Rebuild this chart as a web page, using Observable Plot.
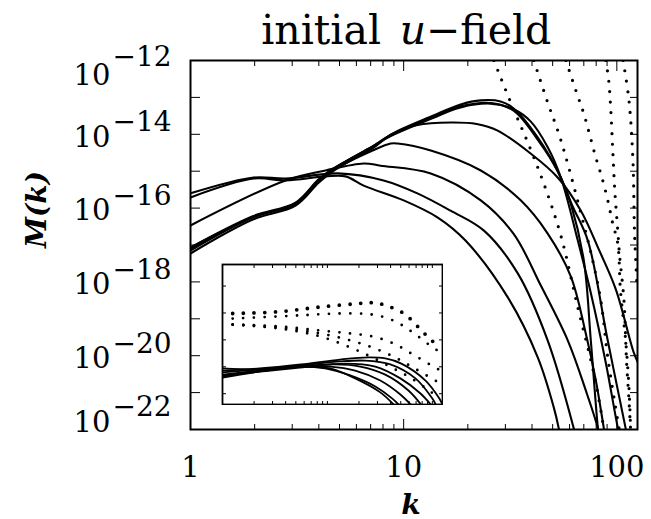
<!DOCTYPE html>
<html><head><meta charset="utf-8">
<script src="https://cdn.jsdelivr.net/npm/d3@7"></script>
<script src="https://cdn.jsdelivr.net/npm/@observablehq/plot@0.6"></script>
<style>
body{margin:0;background:#fff;}
#wrap{position:relative;width:651px;height:519px;overflow:hidden;}
#wrap svg{position:absolute;}
</style>
</head><body><div id="wrap"></div>
<script>
// ---------- main panel data: [k, log10 M(k)] ----------
const solidP1a = [[1,-17.23],[1.96,-16.31],[3.11,-15.93],[3.99,-15.31],[4.64,-15.01],[5.64,-14.71],[7.15,-14.38],[8.69,-14.01],[13.8,-13.49],[18.5,-13.19],[23.0,-13.08],[28.5,-13.11],[32.8,-13.30],[42.6,-14.09],[54.6,-15.17],[60.8,-15.88],[70.0,-17.42],[75.5,-19.59],[81.5,-21.97],[84,-22.6]];
const solidP1b = [[1,-17.15],[1.96,-16.25],[3.11,-15.88],[3.99,-15.25],[4.64,-14.96],[5.64,-14.66],[7.15,-14.33],[8.69,-14.05],[13.8,-13.55],[18.5,-13.27],[25.6,-13.17],[32.8,-13.32],[39.4,-13.65],[47.4,-14.35],[54.6,-15.17],[65.6,-16.88],[75.5,-18.3],[88.8,-20.2],[101,-21.95],[106,-22.5]];
const solidP2 = [[1,-17.07],[1.96,-16.22],[3.11,-15.85],[3.99,-15.22],[4.64,-14.94],[5.64,-14.66],[7.15,-14.33],[8.69,-14.02],[11.6,-13.75],[16.6,-13.68],[22,-13.72],[27.6,-13.90],[39.4,-14.52],[52.8,-15.17],[67.8,-16.07],[82,-17.1],[98.9,-18.2],[120,-19.91],[126,-20.2]];
const solidP2b = [[1,-17.10],[1.96,-16.24],[3.11,-15.87],[3.99,-15.24],[4.64,-14.95],[5.64,-14.67],[7.15,-14.34],[8.69,-14.03],[13.8,-13.52],[18.5,-13.24],[25.6,-13.15],[32.8,-13.36],[42.6,-14.15],[52.8,-15.0],[62,-15.95],[73.1,-16.88],[90,-19.5],[110,-21.97],[115,-22.5]];
const solidP3 = [[1,-17.07],[1.96,-16.25],[3.11,-15.88],[3.99,-15.25],[4.64,-14.98],[7.15,-14.44],[8.69,-14.25],[9.37,-14.25],[13.4,-14.44],[23.0,-14.98],[35.4,-15.79],[47.4,-16.69],[60.8,-17.85],[71.5,-19.4],[79.7,-20.67],[86.9,-21.97],[90,-22.5]];
const solidP4 = [[1,-16.47],[2.79,-15.25],[4.30,-14.98],[6.49,-14.79],[7.80,-14.85],[13.4,-15.06],[23.0,-15.79],[32.8,-16.70],[44.0,-18.1],[58.9,-19.59],[71.5,-20.94],[81.5,-21.97],[85,-22.5]];
const solidP5 = [[1,-15.60],[1.98,-15.17],[2.79,-15.20],[4.90,-15.06],[8.05,-15.25],[11.6,-15.60],[16.6,-16.07],[23.8,-16.61],[34.3,-17.77],[47.4,-19.59],[62.8,-21.97],[66,-22.5]];
const solidP6 = [[1,-15.71],[1.98,-15.20],[2.79,-15.25],[4.30,-15.14],[5.34,-15.14],[6.49,-15.39],[10.0,-15.79],[14.4,-16.25],[19.5,-16.88],[30.8,-18.42],[42.6,-20.05],[50.6,-21.40],[53.4,-21.97],[55,-22.4]];
const dottedD1 = [[26.5,-12.0],[31.8,-13.14],[38.2,-14.22],[45.4,-15.33],[54.6,-16.74],[65.6,-18.69],[78.0,-20.48],[86.9,-21.97],[89,-22.4]];
const dottedD2 = [[40.8,-12.0],[47.4,-13.14],[53.4,-13.98],[59.5,-14.90],[67.8,-16.14],[75.5,-17.20],[84.1,-18.50],[90.7,-20.05],[101,-21.76],[104,-22.2]];
const dottedD3 = [[57.7,-12.0],[64.9,-12.89],[70.0,-13.44],[74.7,-14.03],[79.7,-14.63],[85.1,-15.17],[90.7,-15.79],[95.7,-16.42],[101,-16.96],[104,-18.23],[110,-19.59],[114,-20.86],[116,-21.97]];
const dottedD4 = [[88.8,-12.0],[91.6,-12.54],[93.7,-13.36],[95.7,-14.44],[97.8,-15.52],[101,-16.61],[103,-17.28],[108,-18.50],[111,-20.13],[114,-21.21],[116,-22.0]];
const dottedD5 = [[107,-12.0],[114,-13.08],[119,-14.71],[121,-16.61],[124,-17.96]];

// ---------- inset data: [k, log10 value] ----------
const insetDotA = [[1.25,-1.02],[3.29,-0.96],[8.49,-0.78],[21.4,-0.64],[26.7,-0.62],[34.1,-0.69],[53.0,-1.01],[73.8,-1.53],[98.2,-2.02],[120,-2.25]];
const insetDotB = [[1.25,-1.21],[5.46,-1.09],[13.2,-1.02],[26.7,-1.06],[42.5,-1.28],[63.2,-1.69],[98.2,-2.25],[120,-2.47]];
const insetDotC = [[1.25,-1.43],[3.52,-1.50],[8.49,-1.65],[16.5,-1.76],[26.7,-1.87],[42.5,-2.13],[63.2,-2.51],[98.2,-2.95],[120,-3.14]];
const insetDotD = [[1.25,-1.43],[3.52,-1.54],[8.49,-1.76],[16.5,-2.02],[26.7,-2.28],[42.5,-2.62],[63.2,-2.99],[98.2,-3.43],[120,-3.62]];
const insetDotE = [[1.25,-1.43],[3.52,-1.58],[8.49,-1.87],[16.5,-2.28],[26.7,-2.65],[42.5,-3.06],[63.2,-3.43],[98.2,-3.95],[120,-4.18]];
const insetS1 = [[1,-3.14],[2.26,-3.06],[5.59,-2.91],[13.2,-2.73],[24.5,-2.65],[35.6,-2.69],[50.7,-2.88],[86.1,-3.51],[115,-4.14],[125,-4.40]];
const insetS2 = [[1,-3.21],[5.59,-2.95],[13.2,-2.80],[22.9,-2.77],[39.8,-2.91],[69.0,-3.43],[100,-4.18],[110,-4.47]];
const insetS3 = [[1,-3.29],[5.59,-2.99],[11.8,-2.91],[20.5,-2.99],[35.6,-3.29],[59.2,-3.88],[80.5,-4.47]];
const insetS4 = [[1,-3.36],[5.59,-2.99],[10.6,-2.99],[18.4,-3.14],[31.9,-3.51],[49.6,-4.03],[64.6,-4.47]];
const insetS5 = [[1,-3.40],[5.59,-2.99],[9.49,-3.06],[16.5,-3.32],[28.6,-3.73],[41.6,-4.18],[49.6,-4.47]];
const insetS6 = [[1,-3.06],[2.26,-3.10],[5.59,-2.99],[10.6,-3.06],[18.4,-3.43],[31.9,-3.95],[44.5,-4.47]];
const insetS7 = [[1,-3.32],[5.46,-3.03],[14.7,-2.88],[28.6,-2.99],[49.6,-3.43],[77.1,-3.99],[100,-4.47]];

// ---------- ticks & text ----------
const xMajor = [1, 10, 100];
const xMinor = [2,3,4,5,6,7,8,9,20,30,40,50,60,70,80,90];
const xTickLabels = ["1", "10", "100"];
const yLabelExps = [-12, -14, -16, -18, -20, -22];
const yDecadeExps = [-21,-20,-19,-18,-17,-16,-15,-14,-13];
const insetYExps = [0, -1, -2, -3, -4];
const titleParts = ["initial", "u", "\u2212field"];
const yLabel = "M(k)";
const xLabel = "k";

const serif = "DejaVu Serif";
const toRows = (groups) => groups.flatMap(([name, pts]) => pts.map(([k, e]) => ({curve: name, k, v: 10 ** e})));

const solidRows = toRows([["P1a",solidP1a],["P1b",solidP1b],["P2",solidP2],["P2b",solidP2b],["P3",solidP3],["P4",solidP4],["P5",solidP5],["P6",solidP6]]);
const dottedRows = toRows([["D1",dottedD1],["D2",dottedD2],["D3",dottedD3],["D4",dottedD4],["D5",dottedD5]]);
const insetDotTop = toRows([["A",insetDotA]]);
const insetDotRows = toRows([["B",insetDotB],["C",insetDotC],["D",insetDotD],["E",insetDotE]]);
const insetSolidRows = toRows([["S1",insetS1],["S2",insetS2],["S3",insetS3],["S4",insetS4],["S5",insetS5],["S6",insetS6],["S7",insetS7]]);

const yLabelRows = yLabelExps.map(e => ({v: 10 ** e, sup: "\u2212" + Math.abs(e)}));
const yDecades = yDecadeExps.map(e => 10 ** e);
const blank = () => "";

function yLabelMarks(rows, dyBase, dySup) {
  return [
    Plot.text(rows, {y: "v", text: () => "10", frameAnchor: "left", dx: -80, dy: dyBase, textAnchor: "end", lineAnchor: "middle", fontSize: 29, fontFamily: serif}),
    Plot.text(rows, {y: "v", text: "sup", frameAnchor: "left", dx: -78, dy: dySup, textAnchor: "start", lineAnchor: "middle", fontSize: 28, fontFamily: serif})
  ];
}

const main = Plot.plot({
  width: 651, height: 519,
  marginLeft: 190, marginRight: 14, marginTop: 60, marginBottom: 90,
  x: {type: "log", domain: [1, 125]},
  y: {type: "log", domain: [1e-22, 1e-12]},
  marks: [
    Plot.line(solidRows, {x: "k", y: "v", z: "curve", stroke: "black", strokeWidth: 2.1, curve: "catmull-rom", clip: true}),
    Plot.line(dottedRows, {x: "k", y: "v", z: "curve", stroke: "black", strokeWidth: 3.2, strokeDasharray: "0,10.5", strokeLinecap: "round", curve: "catmull-rom", clip: true}),
    Plot.frame({stroke: "black", strokeWidth: 2}),
    Plot.axisX(xMajor, {anchor: "bottom", tickSize: 10, dy: -10, tickFormat: blank, label: null}),
    Plot.axisX(xMinor, {anchor: "bottom", tickSize: 5, dy: -5, tickFormat: blank, label: null}),
    Plot.axisX(xMajor, {anchor: "top", tickSize: 10, dy: 10, tickFormat: blank, label: null}),
    Plot.axisX(xMinor, {anchor: "top", tickSize: 5, dy: 5, tickFormat: blank, label: null}),
    Plot.axisY(yDecades, {anchor: "left", tickSize: 10, dx: 10, tickFormat: blank, label: null}),
    Plot.axisY(yDecades, {anchor: "right", tickSize: 8, dx: -8, tickFormat: blank, label: null}),
    Plot.text(xMajor, {x: d => d, text: (d, i) => xTickLabels[i], frameAnchor: "bottom", dy: 38, lineAnchor: "middle", fontSize: 29, fontFamily: serif}),
    ...yLabelMarks(yLabelRows.slice(0, 1), 15, -3),
    ...yLabelMarks(yLabelRows.slice(1, -1), 3, -12),
    ...yLabelMarks(yLabelRows.slice(-1), -7, -22),
    Plot.text([titleParts[0]], {text: d => d, frameAnchor: "top", dx: -33, dy: -17, textAnchor: "end", lineAnchor: "bottom", fontSize: 41, fontFamily: serif}),
    Plot.text([titleParts[1]], {text: d => d, frameAnchor: "top", dx: -1, dy: -17, textAnchor: "middle", lineAnchor: "bottom", fontSize: 41, fontStyle: "italic", fontFamily: serif}),
    Plot.text([titleParts[2]], {text: d => d, frameAnchor: "top", dx: 12, dy: -17, textAnchor: "start", lineAnchor: "bottom", fontSize: 41, fontFamily: serif}),
    Plot.text([yLabel], {text: d => d, frameAnchor: "left", dx: -153, dy: 3, rotate: -90, lineAnchor: "middle", fontSize: 28, fontStyle: "italic", fontWeight: "bold", fontFamily: serif}),
    Plot.text([xLabel], {text: d => d, frameAnchor: "bottom", dx: -3, dy: 84, lineAnchor: "bottom", fontSize: 28, fontStyle: "italic", fontWeight: "bold", fontFamily: serif})
  ]
});

const inset = Plot.plot({
  width: 222, height: 142,
  marginLeft: 1, marginRight: 1, marginTop: 1, marginBottom: 1,
  x: {type: "log", domain: [1, 125]},
  y: {type: "log", domain: [10 ** -4.4, 10 ** 0.8]},
  marks: [
    Plot.line(insetSolidRows, {x: "k", y: "v", z: "curve", stroke: "black", strokeWidth: 1.8, curve: "catmull-rom", clip: true}),
    Plot.line(insetDotTop, {x: "k", y: "v", z: "curve", stroke: "black", strokeWidth: 3.8, strokeDasharray: "0,10.7", strokeLinecap: "round", curve: "catmull-rom", clip: true}),
    Plot.line(insetDotRows, {x: "k", y: "v", z: "curve", stroke: "black", strokeWidth: 2.8, strokeDasharray: "0,10.7", strokeLinecap: "round", curve: "catmull-rom", clip: true}),
    Plot.frame({stroke: "black", strokeWidth: 1.8}),
    Plot.axisX(xMinor.concat([10, 100]), {anchor: "bottom", tickSize: 3, dy: -3, tickFormat: blank, label: null}),
    Plot.axisX(xMinor.concat([10, 100]), {anchor: "top", tickSize: 3, dy: 3, tickFormat: blank, label: null}),
    Plot.axisY(insetYExps.map(e => 10 ** e), {anchor: "left", tickSize: 4, dx: 4, tickFormat: blank, label: null}),
    Plot.axisY(insetYExps.map(e => 10 ** e), {anchor: "right", tickSize: 4, dx: -4, tickFormat: blank, label: null})
  ]
});

const wrap = document.getElementById("wrap");
main.style.left = "0px"; main.style.top = "0px";
inset.style.left = "221px"; inset.style.top = "263px";
wrap.append(main);
wrap.append(inset);
</script>
</body></html>
